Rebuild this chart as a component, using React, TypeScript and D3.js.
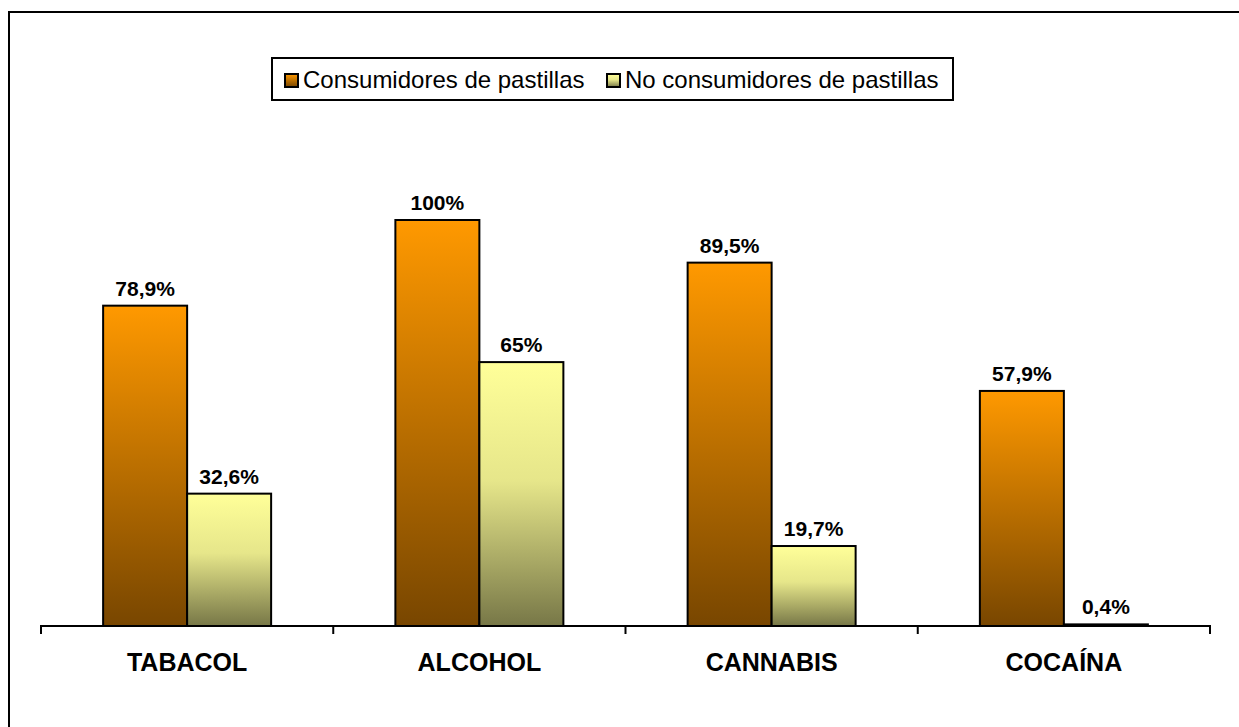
import React from "react";
import * as d3 from "d3";

const categories = ["TABACOL", "ALCOHOL", "CANNABIS", "COCAÍNA"];
const seriesNames = ["Consumidores de pastillas", "No consumidores de pastillas"];
const consumidores = [78.9, 100, 89.5, 57.9];
const noConsumidores = [32.6, 65, 19.7, 0.4];
const valueLabels = [
  ["78,9%", "100%", "89,5%", "57,9%"],
  ["32,6%", "65%", "19,7%", "0,4%"],
];

const W = 1239;
const H = 727;
const FONT = "Arial, 'Liberation Sans', sans-serif";

export default function App() {
  const x = d3.scaleBand<string>().domain(categories).range([41, 1210]).paddingInner(0).paddingOuter(0);
  const bw = x.bandwidth();
  const groupFrac = 168 / 292.25;
  const xs = d3
    .scaleBand<string>()
    .domain(seriesNames)
    .range([(bw * (1 - groupFrac)) / 2, bw - (bw * (1 - groupFrac)) / 2])
    .padding(0);
  const y = d3.scaleLinear().domain([0, 100]).range([626, 220]);
  const seriesData = [consumidores, noConsumidores];
  const gradIds = ["gradOrange", "gradYellow"];
  const ticks = [...categories.map((c) => x(c)!), 1210];
  const legendX = [285, 607];

  return (
    <svg width={W} height={H} style={{ position: "absolute", left: 0, top: 0 }} fontFamily={FONT}>
      <defs>
        <linearGradient id="gradOrange" x1="0" y1="0" x2="0" y2="1">
          <stop offset="0%" stopColor="#FF9900" />
          <stop offset="100%" stopColor="#784600" />
        </linearGradient>
        <linearGradient id="gradYellow" x1="0" y1="0" x2="0" y2="1">
          <stop offset="0%" stopColor="#FFFF99" />
          <stop offset="45%" stopColor="#E6E68A" />
          <stop offset="100%" stopColor="#777747" />
        </linearGradient>
      </defs>
      <rect x={0} y={0} width={W} height={H} fill="#fff" />
      <rect x={9} y={12} width={W + 20} height={H + 20} fill="none" stroke="#000" strokeWidth={2} />

      {/* legend */}
      <g>
        <rect x={272} y={58} width={681} height={42} fill="#fff" stroke="#000" strokeWidth={2} />
        {seriesNames.map((s, i) => {
          const sx = legendX[i];
          return (
            <g key={s}>
              <rect x={sx} y={74} width={13} height={13} fill={`url(#${gradIds[i]})`} stroke="#000" strokeWidth={2} />
              <text x={sx + 18} y={88} fontSize={24} fill="#000">
                {s}
              </text>
            </g>
          );
        })}
      </g>

      {/* bars */}
      {seriesData.map((vals, si) =>
        vals.map((v, ci) => {
          const bx = x(categories[ci])! + xs(seriesNames[si])!;
          const by = y(v);
          return (
            <g key={`${si}-${ci}`}>
              <rect
                x={bx}
                y={by}
                width={xs.bandwidth()}
                height={y(0) - by}
                fill={`url(#${gradIds[si]})`}
                stroke="#000"
                strokeWidth={2}
              />
              <text x={bx + xs.bandwidth() / 2} y={by - 10} textAnchor="middle" fontSize={21} fontWeight="bold" fill="#000">
                {valueLabels[si][ci]}
              </text>
            </g>
          );
        })
      )}

      {/* axis */}
      <line x1={41} x2={1210} y1={626} y2={626} stroke="#000" strokeWidth={2} />
      {ticks.map((t, i) => (
        <line key={i} x1={t} x2={t} y1={625} y2={634} stroke="#000" strokeWidth={2} />
      ))}
      {categories.map((c) => (
        <text key={c} x={x(c)! + bw / 2} y={671} textAnchor="middle" fontSize={25} fontWeight="bold" fill="#000">
          {c}
        </text>
      ))}
    </svg>
  );
}
